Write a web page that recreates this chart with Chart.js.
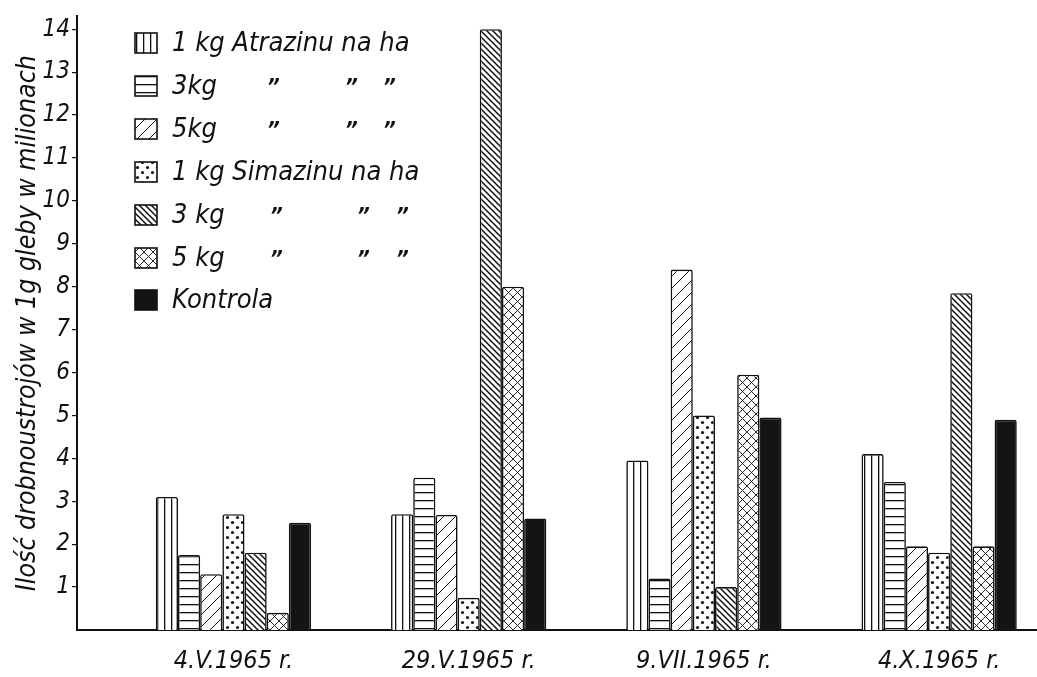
<!DOCTYPE html>
<html>
<head>
<meta charset="utf-8">
<script src="https://cdn.jsdelivr.net/npm/chart.js@4/dist/chart.umd.min.js"></script>
<style>
  html, body { margin: 0; padding: 0; background: #fff; }
  #wrap { width: 1037px; height: 677px; position: relative; }
</style>
</head>
<body>
<div id="wrap"><canvas id="c"></canvas></div>
<script>
// ---- data ----
const dates = ['4.V.1965 r.', '29.V.1965 r.', '9.VII.1965 r.', '4.X.1965 r.'];
const atrazin1 = [3.1, 2.7, 3.95, 4.1];
const atrazin3 = [1.75, 3.55, 1.2, 3.45];
const atrazin5 = [1.3, 2.68, 8.4, 1.95];
const simazin1 = [2.7, 0.75, 5.0, 1.8];
const simazin3 = [1.8, 14.0, 1.0, 7.85];
const simazin5 = [0.4, 8.0, 5.95, 1.95];
const kontrola = [2.5, 2.6, 4.95, 4.9];
const yTickValues = [1, 2, 3, 4, 5, 6, 7, 8, 9, 10, 11, 12, 13, 14];
const seriesNames = ['1 kg Atrazinu na ha', '3 kg Atrazinu na ha', '5 kg Atrazinu na ha',
  '1 kg Simazinu na ha', '3 kg Simazinu na ha', '5 kg Simazinu na ha', 'Kontrola'];
const legendText = ['1 kg Atrazinu na ha', '3kg', '5kg', '1 kg Simazinu na ha', '3 kg', '5 kg', 'Kontrola'];
const yTitle = 'Ilość drobnoustrojów w 1g gleby w milionach';

const FONT = "'Liberation Sans Narrow', 'DejaVu Sans Condensed', 'Liberation Sans', sans-serif";
const INK = '#111';

// ---- patterns ----
function makePattern(type) {
  const c = document.createElement('canvas');
  const g = c.getContext('2d');
  let w = 8, h = 8;
  if (type === 'vert') { w = 7; h = 4; }
  if (type === 'horiz') { w = 4; h = 8; }
  if (type === 'slash') { w = 12; h = 12; }
  if (type === 'back') { w = 6; h = 6; }
  if (type === 'cross') { w = 9; h = 9; }
  if (type === 'dots') { w = 10; h = 10; }
  c.width = w; c.height = h;
  g.fillStyle = '#fff'; g.fillRect(0, 0, w, h);
  g.strokeStyle = INK; g.fillStyle = INK;
  if (type === 'vert') { g.fillRect(3, 0, 1.3, h); }
  if (type === 'horiz') { g.fillRect(0, 4, w, 1.3); }
  if (type === 'slash') {
    g.lineWidth = 1;
    g.beginPath();
    g.moveTo(-1, h + 1); g.lineTo(w + 1, -1);
    g.moveTo(-1, 1); g.lineTo(1, -1);
    g.moveTo(w - 1, h + 1); g.lineTo(w + 1, h - 1);
    g.stroke();
  }
  if (type === 'back') {
    g.lineWidth = 1.5;
    g.beginPath();
    g.moveTo(-1, -1); g.lineTo(w + 1, h + 1);
    g.moveTo(w - 1, -1); g.lineTo(w + 1, 1);
    g.moveTo(-1, h - 1); g.lineTo(1, h + 1);
    g.stroke();
  }
  if (type === 'cross') {
    g.lineWidth = 0.9;
    g.beginPath();
    g.moveTo(-1, -1); g.lineTo(w + 1, h + 1);
    g.moveTo(-1, h + 1); g.lineTo(w + 1, -1);
    g.stroke();
  }
  if (type === 'dots') {
    g.beginPath(); g.arc(2.5, 2.5, 1.6, 0, Math.PI * 2); g.fill();
    g.beginPath(); g.arc(7.5, 7.5, 1.6, 0, Math.PI * 2); g.fill();
  }
  return g.createPattern(c, 'repeat');
}

const fills = [makePattern('vert'), makePattern('horiz'), makePattern('slash'),
  makePattern('dots'), makePattern('back'), makePattern('cross'), '#141414'];
const seriesValues = [atrazin1, atrazin3, atrazin5, simazin1, simazin3, simazin5, kontrola];

const datasets = seriesValues.map((vals, k) => ({
  label: seriesNames[k],
  data: vals.map((v, i) => ({ x: i, y: v })),
  backgroundColor: fills[k],
  borderColor: INK,
  borderWidth: 1.6,
  borderRadius: 2,
  borderSkipped: 'bottom',
  categoryPercentage: 0.66,
  barPercentage: 1.0
}));

// ---- custom legend plugin ----
const legendPlugin = {
  id: 'patternLegend',
  afterDraw(chart) {
    const ctx = chart.ctx;
    ctx.save();
    const boxX = 135, boxW = 22, boxH = 20, textX = 172;
    const rowTop = [33, 76, 119, 162, 205, 248, 290];
    const dittoA = [267, 345, 383];
    const dittoS = [270, 357, 396];
    chart.data.datasets.forEach((ds, k) => {
      const y = rowTop[k];
      ctx.fillStyle = ds.backgroundColor;
      ctx.fillRect(boxX, y, boxW, boxH);
      ctx.lineWidth = 1.6;
      ctx.strokeStyle = INK;
      ctx.strokeRect(boxX, y, boxW, boxH);
      ctx.fillStyle = INK;
      ctx.font = "italic 27px " + FONT;
      ctx.textBaseline = 'middle';
      ctx.textAlign = 'left';
      ctx.fillText(legendText[k], textX, y + boxH / 2 + 1);
      let ditto = null;
      if (k === 1 || k === 2) ditto = dittoA;
      if (k === 4 || k === 5) ditto = dittoS;
      if (ditto) {
        ctx.font = "bold italic 22px " + FONT;
        ditto.forEach(x => ctx.fillText('\u201D', x, y + boxH / 2 + 2));
      }
    });
    ctx.restore();
  }
};

new Chart(document.getElementById('c'), {
  type: 'bar',
  data: { datasets },
  options: {
    responsive: true,
    maintainAspectRatio: false,
    animation: false,
    layout: { padding: { top: 13, right: 0, bottom: 0, left: 0 } },
    plugins: { legend: { display: false }, tooltip: { enabled: false } },
    scales: {
      x: {
        type: 'linear',
        min: -0.665,
        max: 3.416,
        offset: false,
        grid: { display: false },
        border: { display: true, color: INK, width: 2 },
        afterBuildTicks(scale) { scale.ticks = dates.map((d, i) => ({ value: i })); },
        afterFit(scale) { scale.height = 47; },
        ticks: {
          autoSkip: false, maxRotation: 0, padding: 8,
          color: INK,
          font: { family: FONT, size: 25, style: 'italic' },
          callback: (v) => dates[v]
        }
      },
      y: {
        min: 0,
        max: 14.3,
        grid: { display: true, drawOnChartArea: false, drawTicks: true, tickLength: 5, color: INK, lineWidth: 1.2 },
        border: { display: true, color: INK, width: 2 },
        afterBuildTicks(scale) { scale.ticks = yTickValues.map(v => ({ value: v })); },
        afterFit(scale) { scale.width = 77; },
        ticks: {
          padding: 2,
          color: INK,
          font: { family: FONT, size: 24, style: 'italic' }
        },
        title: {
          display: true,
          text: yTitle,
          color: INK,
          align: 'center',
          padding: { top: 12, bottom: 0 },
          font: { family: FONT, size: 26.5, style: 'italic' }
        }
      }
    }
  },
  plugins: [legendPlugin]
});
</script>
</body>
</html>
